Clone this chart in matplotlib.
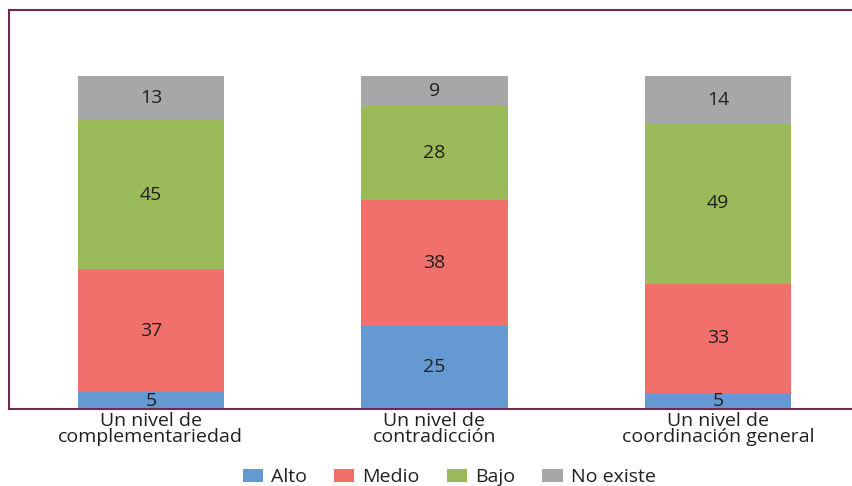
import matplotlib
matplotlib.use("Agg")
import matplotlib.pyplot as plt
import numpy as np
from matplotlib.patches import Patch

categories = ["Un nivel de\ncomplementariedad", "Un nivel de\ncontradicción", "Un nivel de\ncoordinación general"]
series_names = ["Alto", "Medio", "Bajo", "No existe"]
alto = [5, 25, 5]
medio = [37, 38, 33]
bajo = [45, 28, 49]
no_existe = [13, 9, 14]
colors = ["#6599d1", "#f1706b", "#9aba5a", "#a7a7aa"]

plt.rcParams['font.family'] = ['Open Sans', 'DejaVu Sans']

fig = plt.figure(figsize=(8.53, 4.86), dpi=100)
ax = fig.add_axes([9/853, 1 - 409/486, 851/853, 399/486])

data = np.array([alto, medio, bajo, no_existe], dtype=float)
totals = data.sum(axis=0)
shares = data / totals * 100

x = np.arange(len(categories))
bottom = np.zeros(len(categories))
for i, name in enumerate(series_names):
    ax.bar(x, shares[i], width=0.515, bottom=bottom, color=colors[i], edgecolor='none', zorder=2)
    for j in range(len(categories)):
        ax.text(x[j], bottom[j] + shares[i][j] / 2, f"{int(data[i][j])}",
                ha='center', va='center', fontsize=14, color='#231f20', zorder=3)
    bottom += shares[i]

ax.set_xlim(-0.5, 2.5)
ax.set_ylim(0, 120)
ax.set_yticks([])
ax.set_xticks(x)
ax.set_xticklabels(categories, fontsize=14, color='#231f20', linespacing=0.9)
ax.tick_params(axis='x', length=0, pad=2)
for s in ['left', 'top', 'bottom']:
    ax.spines[s].set_color('#6e2a4f')
    ax.spines[s].set_linewidth(1.5)
ax.spines['right'].set_visible(False)

handles = [Patch(facecolor=c, edgecolor='none') for c in colors]
fig.legend(handles, series_names, loc='center', bbox_to_anchor=(449/853, 1 - 477/486),
           ncol=4, frameon=False, fontsize=14, handlelength=1.05, handleheight=0.65,
           columnspacing=1.4, handletextpad=0.4, labelcolor='#231f20')

fig.savefig("out.png", dpi=100)
